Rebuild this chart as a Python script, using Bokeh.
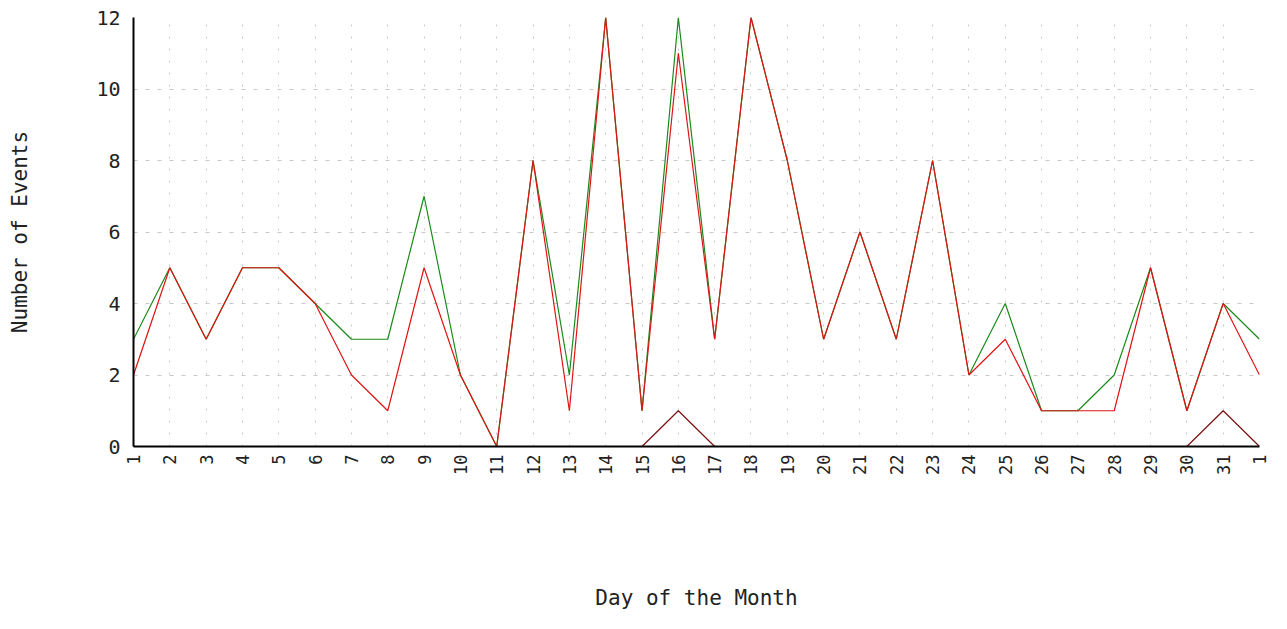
from bokeh.plotting import figure
from bokeh.models import Range1d, FixedTicker
from bokeh.embed import file_html
from bokeh.resources import INLINE
import math

days = list(range(1, 33))
day_labels = [str(d) for d in range(1, 32)] + ["1"]

green_series = [3, 5, 3, 5, 5, 4, 3, 3, 7, 2, 0, 8, 2, 12, 1, 12, 3, 12, 8, 3, 6, 3, 8, 2, 4, 1, 1, 2, 5, 1, 4, 3]
red_series = [2, 5, 3, 5, 5, 4, 2, 1, 5, 2, 0, 8, 1, 12, 1, 11, 3, 12, 8, 3, 6, 3, 8, 2, 3, 1, 1, 1, 5, 1, 4, 2]
darkred_series = [0, 0, 0, 0, 0, 0, 0, 0, 0, 0, 0, 0, 0, 0, 0, 1, 0, 0, 0, 0, 0, 0, 0, 0, 0, 0, 0, 0, 0, 0, 1, 0]
y_ticks = [0, 2, 4, 6, 8, 10, 12]

FONT = "DejaVu Sans Mono"

p = figure(width=1271, height=613, output_backend="svg", toolbar_location=None,
           x_range=Range1d(1, 32), y_range=Range1d(0, 12),
           min_border_left=133, min_border_right=12, min_border_top=17, min_border_bottom=167)
p.outline_line_color = None
p.background_fill_color = "white"
p.border_fill_color = "white"

p.line(days, green_series, line_color="#1a8a1a", line_width=1.2)
p.line(days, red_series, line_color="#e01414", line_width=1.2)
p.line(days, darkred_series, line_color="#7a1010", line_width=1.2)

p.xaxis.ticker = FixedTicker(ticks=days)
p.xaxis.major_label_overrides = {d: lab for d, lab in zip(days, day_labels)}
p.xaxis.major_label_orientation = math.pi / 2
p.yaxis.ticker = FixedTicker(ticks=y_ticks)

for ax in (p.xaxis, p.yaxis):
    ax.axis_line_color = "black"
    ax.axis_line_width = 2
    ax.major_tick_out = 0
    ax.major_tick_in = 0
    ax.minor_tick_out = 0
    ax.minor_tick_in = 0
    ax.major_label_text_font = FONT
    ax.major_label_text_color = "#222222"
    ax.axis_label_text_font = FONT
    ax.axis_label_text_font_size = "21px"
    ax.axis_label_text_font_style = "normal"
    ax.axis_label_text_color = "#222222"

p.xaxis.major_label_text_font_size = "17px"
p.yaxis.major_label_text_font_size = "20px"

p.xaxis.axis_label = "Day of the Month"
p.yaxis.axis_label = "Number of Events"
p.xaxis.major_label_standoff = 8
p.yaxis.major_label_standoff = 13
p.xaxis.axis_label_standoff = 108
p.yaxis.axis_label_standoff = 61

p.xgrid.grid_line_color = "#c8c8c8"
p.xgrid.grid_line_dash = "2 10"
p.xgrid.grid_line_width = 1
p.ygrid.grid_line_color = "#c8c8c8"
p.ygrid.grid_line_dash = "4 8"
p.ygrid.grid_line_width = 1

open("out.html", "w").write(file_html(p, INLINE))
